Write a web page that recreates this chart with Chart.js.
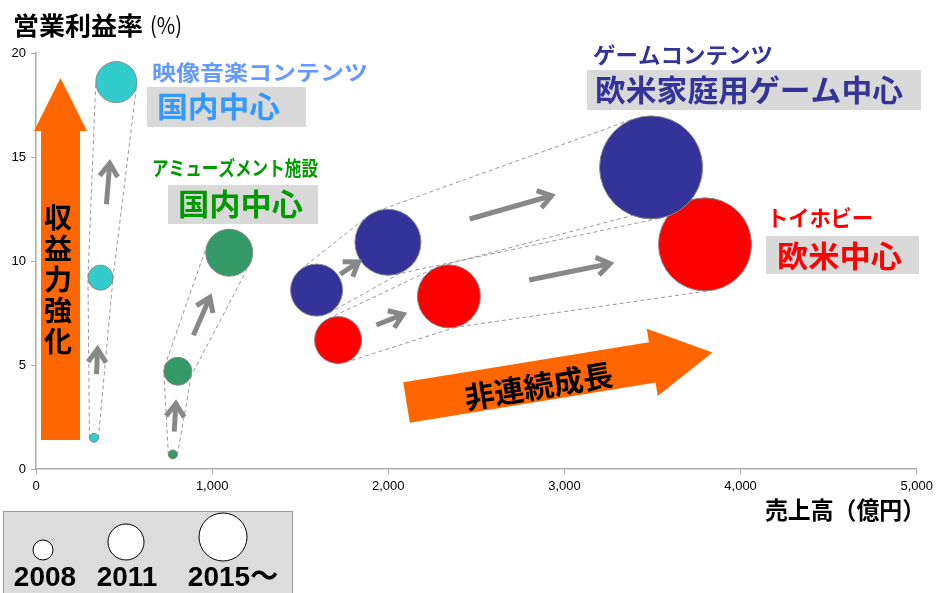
<!DOCTYPE html>
<html>
<head>
<meta charset="utf-8">
<script src="https://cdn.jsdelivr.net/npm/chart.js@4.4.0/dist/chart.umd.min.js"></script>
<style>
html, body { margin: 0; padding: 0; background: #fff; }
canvas { display: block; }
</style>
</head>
<body>
<canvas id="myChart" width="938" height="593"></canvas>
<script>
// years (bubble legend)
const years = ['2008', '2011', '2015～'];
// segment names
const segments = ['映像音楽コンテンツ', 'アミューズメント施設', 'ゲームコンテンツ', 'トイホビー'];
// 売上高 (億円)
const salesMusic = [329, 366, 456];
const salesAmuse = [777, 805, 1097];
const salesGame = [1593, 1998, 3492];
const salesToy = [1715, 2344, 3798];
// 営業利益率 (%)
const marginMusic = [1.5, 9.2, 18.6];
const marginAmuse = [0.7, 4.7, 10.4];
const marginGame = [8.6, 10.9, 14.5];
const marginToy = [6.2, 8.3, 10.8];
// bubble size
const sizeMusic = [4.5, 12.5, 20.5];
const sizeAmuse = [4.5, 14, 23.5];
const sizeGame = [26, 33, 51.5];
const sizeToy = [23.5, 31.5, 46.5];
// axis ticks
const xTicks = [0, 1000, 2000, 3000, 4000, 5000];
const yTicks = [0, 5, 10, 15, 20];

const JP = '"Noto Sans CJK JP", "Noto Sans", sans-serif';
const LAT = '"Liberation Sans", Arial, sans-serif';

function points(xs, ys, rs) {
    return xs.map((x, i) => ({ x: x, y: ys[i], r: rs[i] }));
}

function bubbleSet(label, xs, ys, rs, color) {
    return {
        label: label,
        data: points(xs, ys, rs),
        backgroundColor: color,
        borderColor: '#888888',
        borderWidth: 1
    };
}

// text squeezed / stretched to a width
function fitText(ctx, text, x, y, size, width, color, weight, family) {
    ctx.save();
    ctx.font = (weight || 'bold') + ' ' + size + 'px ' + (family || JP);
    ctx.fillStyle = color;
    ctx.textAlign = 'left';
    ctx.textBaseline = 'middle';
    const w = ctx.measureText(text).width;
    ctx.translate(x, y);
    ctx.scale(width / w, 1);
    ctx.fillText(text, 0, 0);
    ctx.restore();
}

function greyBox(ctx, x, y, w, h) {
    ctx.fillStyle = '#d9d9d9';
    ctx.fillRect(x, y, w, h);
}

// outer tangent between two circles, side = 1 or -1
function tangent(a, b, side) {
    const dx = b.x - a.x, dy = b.y - a.y;
    const d = Math.hypot(dx, dy);
    const ux = dx / d, uy = dy / d;
    const k = (a.r - b.r) / d;
    const s = Math.sqrt(1 - k * k) * side;
    const nx = k * ux - s * uy, ny = k * uy + s * ux;
    return [a.x + a.r * nx, a.y + a.r * ny, b.x + b.r * nx, b.y + b.r * ny];
}

function grayArrow(ctx, a, b) {
    const dx = b.x - a.x, dy = b.y - a.y;
    const d = Math.hypot(dx, dy);
    const ux = dx / d, uy = dy / d;
    const gap = d - a.r - b.r;
    const mid = a.r + gap / 2;
    const len = Math.max(22, Math.min(86, gap * 0.45, b.r * 2));
    const sx = a.x + ux * (mid - len / 2), sy = a.y + uy * (mid - len / 2);
    const ex = a.x + ux * (mid + len / 2), ey = a.y + uy * (mid + len / 2);
    ctx.save();
    ctx.strokeStyle = '#888888';
    ctx.lineWidth = 5;
    ctx.lineCap = 'butt';
    ctx.lineJoin = 'miter';
    ctx.beginPath();
    ctx.moveTo(sx, sy);
    ctx.lineTo(ex - ux * 2, ey - uy * 2);
    ctx.stroke();
    const hl = 13, hw = 9;
    ctx.beginPath();
    ctx.moveTo(ex - ux * hl - uy * hw, ey - uy * hl + ux * hw);
    ctx.lineTo(ex, ey);
    ctx.lineTo(ex - ux * hl + uy * hw, ey - uy * hl - ux * hw);
    ctx.stroke();
    ctx.restore();
}

// circles in pixels for one dataset
function circles(chart, i) {
    const xs = chart.scales.x, ys = chart.scales.y;
    return chart.data.datasets[i].data.map(p => ({
        x: xs.getPixelForValue(p.x),
        y: ys.getPixelForValue(p.y),
        r: p.r
    }));
}

const backPlugin = {
    id: 'back',
    beforeDatasetsDraw(chart) {
        const ctx = chart.ctx;
        ctx.save();
        // orange vertical arrow
        ctx.fillStyle = '#ff6600';
        ctx.beginPath();
        ctx.moveTo(41, 440);
        ctx.lineTo(41, 131);
        ctx.lineTo(34, 131);
        ctx.lineTo(60.5, 78);
        ctx.lineTo(87, 131);
        ctx.lineTo(80, 131);
        ctx.lineTo(80, 440);
        ctx.closePath();
        ctx.fill();
        // orange diagonal arrow
        ctx.save();
        ctx.translate(406.5, 402.5);
        ctx.rotate(-9.27 * Math.PI / 180);
        ctx.beginPath();
        ctx.moveTo(0, -20.5);
        ctx.lineTo(249, -20.5);
        ctx.lineTo(249, -34);
        ctx.lineTo(310, 0);
        ctx.lineTo(249, 34);
        ctx.lineTo(249, 20.5);
        ctx.lineTo(0, 20.5);
        ctx.closePath();
        ctx.fill();
        ctx.restore();

        // dashed outlines between years
        ctx.strokeStyle = '#999999';
        ctx.lineWidth = 1;
        ctx.setLineDash([4, 3]);
        chart.data.datasets.forEach((ds, i) => {
            const c = circles(chart, i);
            for (let j = 0; j < c.length - 1; j++) {
                [1, -1].forEach(side => {
                    const t = tangent(c[j], c[j + 1], side);
                    ctx.beginPath();
                    ctx.moveTo(t[0], t[1]);
                    ctx.lineTo(t[2], t[3]);
                    ctx.stroke();
                });
            }
        });
        ctx.restore();
    },
    afterDatasetsDraw(chart) {
        const ctx = chart.ctx;
        // gray growth arrows
        chart.data.datasets.forEach((ds, i) => {
            const c = circles(chart, i);
            for (let j = 0; j < c.length - 1; j++) grayArrow(ctx, c[j], c[j + 1]);
        });

        ctx.save();
        // axis titles
        fitText(ctx, '営業利益率', 13, 25, 25, 130, '#000');
        fitText(ctx, '(%)', 150, 25, 23, 32, '#000', 'normal');
        fitText(ctx, '売上高（億円）', 765, 510, 24, 160, '#000');

        // segment labels
        fitText(ctx, segments[0], 152, 72, 21, 216, '#6699ff');
        greyBox(ctx, 147, 87, 159, 40);
        fitText(ctx, '国内中心', 157, 107, 29, 123, '#3399ff');

        fitText(ctx, segments[1], 152, 168, 20, 166, '#009900');
        greyBox(ctx, 168, 185, 150, 39);
        fitText(ctx, '国内中心', 178, 204, 30, 125, '#009900');

        fitText(ctx, segments[2], 593, 55, 22, 180, '#333399');
        greyBox(ctx, 587, 70, 334, 40);
        fitText(ctx, '欧米家庭用ゲーム中心', 595, 90, 30, 308, '#333399');

        fitText(ctx, segments[3], 767, 218, 22, 106, '#ff0000');
        greyBox(ctx, 766, 236, 153, 38);
        fitText(ctx, '欧米中心', 777, 256, 30, 125, '#ff0000');

        // vertical text on the orange arrow
        ctx.fillStyle = '#000';
        ctx.font = 'bold 28px ' + JP;
        ctx.textAlign = 'center';
        ctx.textBaseline = 'middle';
        '収益力強化'.split('').forEach((ch, k) => ctx.fillText(ch, 58, 217 + k * 31));

        // text on the diagonal arrow
        ctx.save();
        ctx.translate(406.5, 402.5);
        ctx.rotate(-9.27 * Math.PI / 180);
        ctx.font = 'bold 30px ' + JP;
        ctx.fillText('非連続成長', 133, 5);
        ctx.restore();

        // bubble size legend
        ctx.fillStyle = '#dcdcdc';
        ctx.strokeStyle = '#999999';
        ctx.lineWidth = 1;
        ctx.fillRect(3.5, 511.5, 289, 90);
        ctx.strokeRect(3.5, 511.5, 289, 90);
        const legendR = [10, 18, 24];
        const legendX = [43, 126, 223];
        const legendY = [550, 542, 537];
        const labelX = [45, 127, 233];
        years.forEach((y, k) => {
            ctx.beginPath();
            ctx.arc(legendX[k], legendY[k], legendR[k], 0, Math.PI * 2);
            ctx.fillStyle = '#fff';
            ctx.fill();
            ctx.strokeStyle = '#000';
            ctx.stroke();
            ctx.fillStyle = '#000';
            ctx.font = 'bold 28px ' + LAT + ', ' + JP;
            ctx.textAlign = 'center';
            ctx.fillText(y, labelX[k], 578);
        });
        ctx.restore();
    }
};

const config = {
    type: 'bubble',
    data: {
        datasets: [
            bubbleSet(segments[0], salesMusic, marginMusic, sizeMusic, '#33cccc'),
            bubbleSet(segments[1], salesAmuse, marginAmuse, sizeAmuse, '#339966'),
            bubbleSet(segments[2], salesGame, marginGame, sizeGame, '#333399'),
            bubbleSet(segments[3], salesToy, marginToy, sizeToy, '#ff0000')
        ]
    },
    options: {
        responsive: false,
        animation: false,
        layout: { autoPadding: false, padding: { top: 53, right: 20, left: 0, bottom: 0 } },
        plugins: {
            legend: { display: false },
            tooltip: { enabled: false }
        },
        scales: {
            x: {
                type: 'linear',
                min: 0,
                max: 5000,
                afterBuildTicks: s => { s.ticks = xTicks.map(v => ({ value: v })); },
                afterFit: s => { s.height = 124; },
                border: { color: '#aaaaaa', width: 1.5 },
                grid: { drawOnChartArea: false, drawTicks: true, tickLength: 5, color: '#aaaaaa' },
                ticks: {
                    color: '#000',
                    padding: 5,
                    maxRotation: 0,
                    font: { family: LAT, size: 13 },
                    callback: v => v.toLocaleString('en-US')
                }
            },
            y: {
                type: 'linear',
                min: 0,
                max: 20,
                afterBuildTicks: s => { s.ticks = yTicks.map(v => ({ value: v })); },
                afterFit: s => { s.width = 36; },
                border: { color: '#aaaaaa', width: 1.5 },
                grid: { drawOnChartArea: false, drawTicks: true, tickLength: 5, color: '#aaaaaa' },
                ticks: {
                    color: '#000',
                    padding: 5,
                    font: { family: LAT, size: 13 }
                }
            }
        }
    },
    plugins: [backPlugin]
};

const myChart = new Chart(document.getElementById('myChart'), config);
</script>
</body>
</html>
